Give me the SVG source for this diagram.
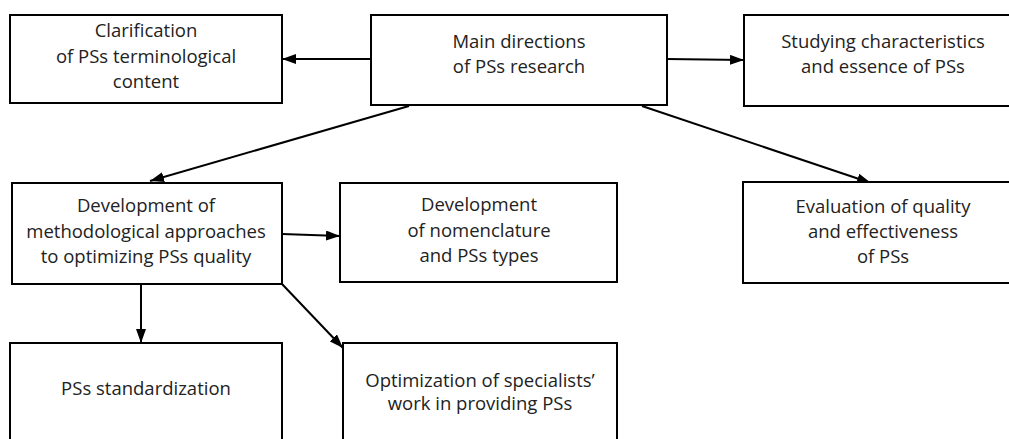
<svg xmlns="http://www.w3.org/2000/svg" width="1009" height="439" viewBox="0 0 1009 439">
<defs>
<style>
.box{fill:#fff;stroke:#000;stroke-width:2}
.t{font-family:"Open Sans","Liberation Sans",sans-serif;font-size:18.5px;fill:#222;text-anchor:middle}
.c{stroke:#000;stroke-width:2;fill:none;marker-end:url(#ah)}
</style>
<marker id="ah" viewBox="0 0 14 10" refX="14" refY="5" markerWidth="14" markerHeight="10" markerUnits="userSpaceOnUse" orient="auto">
<path d="M0,0 L14,5 L0,10 z" fill="#000"/>
</marker>
</defs>
<rect width="1009" height="439" fill="#fff"/>
<g id="connectors">
<path class="c" d="M371,59 L282,59"/>
<path class="c" d="M667,59 L744,60"/>
<path class="c" d="M409,106 L150,181"/>
<path class="c" d="M642,106 L871,183"/>
<path class="c" d="M282,234 L340,236"/>
<path class="c" d="M141,284 L141,343"/>
<path class="c" d="M282,284 L343,348"/>
</g>
<g id="clarification">
<rect class="box" x="10" y="15" width="272" height="88"/>
<text class="t" x="146" y="37">Clarification</text>
<text class="t" x="146" y="63">of PSs terminological</text>
<text class="t" x="146" y="88">content</text>
</g>
<g id="main">
<rect class="box" x="371" y="15" width="296" height="90"/>
<text class="t" x="519" y="48">Main directions</text>
<text class="t" x="519" y="73">of PSs research</text>
</g>
<g id="studying">
<rect class="box" x="744" y="15" width="275" height="91"/>
<text class="t" x="883" y="48">Studying characteristics</text>
<text class="t" x="883" y="73">and essence of PSs</text>
</g>
<g id="methodological">
<rect class="box" x="12" y="183" width="270" height="101"/>
<text class="t" x="146" y="212">Development of</text>
<text class="t" x="146" y="238">methodological approaches</text>
<text class="t" x="146" y="263">to optimizing PSs quality</text>
</g>
<g id="nomenclature">
<rect class="box" x="340" y="183" width="277" height="99"/>
<text class="t" x="479" y="211">Development</text>
<text class="t" x="479" y="237">of nomenclature</text>
<text class="t" x="479" y="262">and PSs types</text>
</g>
<g id="evaluation">
<rect class="box" x="743" y="182" width="276" height="101"/>
<text class="t" x="883" y="213">Evaluation of quality</text>
<text class="t" x="883" y="238">and effectiveness</text>
<text class="t" x="883" y="263">of PSs</text>
</g>
<g id="standardization">
<rect class="box" x="10" y="343" width="272" height="110"/>
<text class="t" x="146" y="395">PSs standardization</text>
</g>
<g id="optimization">
<rect class="box" x="343" y="343" width="274" height="110"/>
<text class="t" x="480" y="387">Optimization of specialists’</text>
<text class="t" x="480" y="410">work in providing PSs</text>
</g>
</svg>
